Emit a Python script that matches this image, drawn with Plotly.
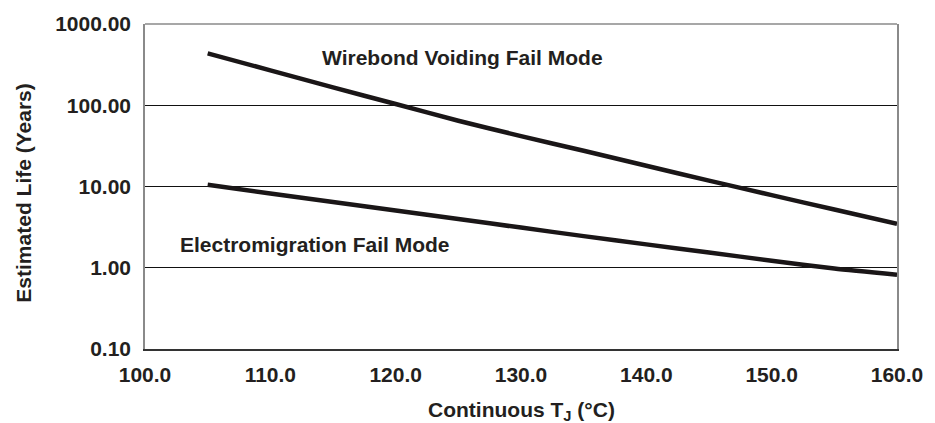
import plotly.graph_objects as go

# Junction temperature (°C)
temps = [105, 110, 115, 120, 125, 130, 135, 140, 145, 150, 155, 160]
# Estimated life (years)
wirebond_life = [434, 269, 166, 103.5, 64.5, 41.7, 27.5, 18.0, 11.8, 7.83, 5.21, 3.47]
electromigration_life = [10.5, 8.2, 6.46, 5.07, 3.97, 3.12, 2.45, 1.94, 1.54, 1.22, 0.977, 0.822]

y_tickvals = [0.1, 1, 10, 100, 1000]
y_ticktext = ["0.10", "1.00", "10.00", "100.00", "1000.00"]
x_tickvals = [100, 110, 120, 130, 140, 150, 160]
x_ticktext = ["100.0", "110.0", "120.0", "130.0", "140.0", "150.0", "160.0"]

label_wirebond = "Wirebond Voiding Fail Mode"
label_em = "Electromigration Fail Mode"

TXT = "#231f20"
FONT = "Liberation Sans, Arial, sans-serif"

fig = go.Figure()
fig.add_trace(go.Scatter(x=temps, y=wirebond_life, mode="lines",
                         line=dict(color="#1a1617", width=4.5, shape="spline", smoothing=0.6),
                         showlegend=False))
fig.add_trace(go.Scatter(x=temps, y=electromigration_life, mode="lines",
                         line=dict(color="#1a1617", width=4.5, shape="spline", smoothing=0.6),
                         showlegend=False))

fig.update_layout(
    width=935, height=423,
    margin=dict(l=145, r=30, t=21, b=74),
    paper_bgcolor="white", plot_bgcolor="white",
    font=dict(family=FONT, size=21, color=TXT, weight="bold"),
    xaxis=dict(range=[100, 160], tickvals=x_tickvals, ticktext=x_ticktext,
               showgrid=False, zeroline=False, showline=True, linecolor="#333",
               linewidth=1.5, ticks="", ticklabelstandoff=6,
               tickfont=dict(family=FONT, size=21, color=TXT, weight="bold")),
    yaxis=dict(type="log", range=[-1, 3], tickvals=y_tickvals, ticktext=y_ticktext,
               showgrid=True, gridcolor="#111", gridwidth=1.2, zeroline=False,
               showline=True, linecolor="#8a8a8a", linewidth=1.5, mirror=True,
               ticks="", ticklabelstandoff=8,
               tickfont=dict(family=FONT, size=21, color=TXT, weight="bold")),
    shapes=[dict(type="line", xref="paper", yref="paper", x0=0, x1=1, y0=1, y1=1,
                 line=dict(color="#8a8a8a", width=1.5), layer="above")],
    annotations=[
        dict(text=label_wirebond, xref="paper", yref="paper", x=0.233, y=0.896,
             xanchor="left", yanchor="middle", showarrow=False,
             font=dict(family=FONT, size=21, color=TXT, weight="bold")),
        dict(text=label_em, xref="paper", yref="paper", x=0.0434, y=0.320,
             xanchor="left", yanchor="middle", showarrow=False,
             font=dict(family=FONT, size=21, color=TXT, weight="bold")),
        dict(text="Estimated Life (Years)", xref="paper", yref="paper",
             x=-0.1618, y=0.479, xanchor="center", yanchor="middle",
             textangle=-90, showarrow=False,
             font=dict(family=FONT, size=21, color=TXT, weight="bold")),
        dict(text="Continuous T<sub>J</sub> (°C)", xref="paper", yref="paper",
             x=0.5, y=-0.19, xanchor="center", yanchor="middle", showarrow=False,
             font=dict(family=FONT, size=21, color=TXT, weight="bold")),
    ],
)

fig.write_html("out.html", config={"displayModeBar": False, "responsive": False},
               post_script="document.body.style.margin='0';document.body.style.overflow='hidden';")
